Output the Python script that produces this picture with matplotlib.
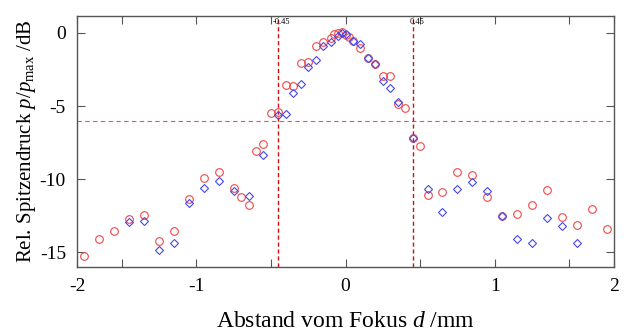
import numpy as np
import matplotlib
matplotlib.use("Agg")
import matplotlib.pyplot as plt

plt.rcParams['font.family'] = ['Liberation Serif', 'DejaVu Serif']
plt.rcParams['mathtext.fontset'] = 'custom'
plt.rcParams['mathtext.rm'] = 'Liberation Serif'
plt.rcParams['mathtext.it'] = 'Liberation Serif:italic'
plt.rcParams['axes.unicode_minus'] = False

# measured peak pressure, red circles
d_red = [-1.75, -1.65, -1.55, -1.45, -1.35, -1.25, -1.15, -1.05, -0.95, -0.85,
         -0.75, -0.70, -0.65, -0.60, -0.55, -0.50, -0.45, -0.40, -0.35, -0.30,
         -0.25, -0.20, -0.15, -0.10, -0.075, -0.05, -0.025, 0.0, 0.025, 0.05,
         0.10, 0.15, 0.20, 0.25, 0.30, 0.35, 0.40, 0.45, 0.50, 0.55,
         0.65, 0.75, 0.85, 0.95, 1.05, 1.15, 1.25, 1.35, 1.45, 1.55,
         1.65, 1.75]
p_red = [-15.25, -14.1, -13.5, -12.7, -12.45, -14.25, -13.5, -11.35, -9.88, -9.52,
         -10.6, -11.23, -11.78, -8.06, -7.6, -5.5, -5.38, -3.53, -3.6, -2.09,
         -1.97, -0.87, -0.6, -0.35, -0.1, 0.0, 0.05, -0.15, -0.3, -0.53,
         -1.0, -1.69, -2.1, -2.95, -2.95, -4.86, -5.16, -7.15, -7.74, -11.07,
         -10.9, -9.47, -9.7, -11.19, -12.51, -12.4, -11.78, -10.75, -12.56, -13.13,
         -12.03, -13.4]

# second series, blue diamonds
d_blue = [-1.45, -1.35, -1.25, -1.15, -1.05, -0.95, -0.85, -0.75, -0.65, -0.55,
          -0.45, -0.40, -0.35, -0.30, -0.25, -0.20, -0.15, -0.10, -0.05, -0.025,
          0.0, 0.05, 0.10, 0.15, 0.20, 0.25, 0.30, 0.35, 0.45, 0.55,
          0.65, 0.75, 0.85, 0.95, 1.05, 1.15, 1.25, 1.35, 1.45, 1.55]
p_blue = [-12.95, -12.85, -14.84, -14.36, -11.6, -10.57, -10.09, -10.8, -11.16, -8.33,
          -5.64, -5.56, -4.1, -3.52, -2.35, -1.87, -0.92, -0.65, -0.2, 0.0,
          -0.05, -0.53, -0.75, -1.69, -2.1, -3.26, -3.74, -4.7, -7.15, -10.68,
          -12.24, -10.66, -10.18, -10.78, -12.49, -14.1, -14.34, -12.65, -13.22, -14.34]

focus_width = 0.45
level_6db = -6.0

fig = plt.figure(figsize=(6.24, 3.31), dpi=100)
ax = fig.add_axes([0.1234, 0.193, 0.8606, 0.759])

ax.axhline(level_6db, color='#e85858', linestyle='--', linewidth=0.8, dashes=(4, 3))
ax.axvline(-focus_width, color='#d01010', linestyle='--', linewidth=1.0, dashes=(3, 2))
ax.axvline(focus_width, color='#d01010', linestyle='--', linewidth=1.0, dashes=(3, 2))

ax.plot(d_red, p_red, linestyle='none', marker='o', markersize=5.5,
        markerfacecolor='none', markeredgecolor='#f04848', markeredgewidth=0.8)
ax.plot(d_blue, p_blue, linestyle='none', marker='D', markersize=3.6,
        markerfacecolor='none', markeredgecolor='#4848e8', markeredgewidth=0.8)

ax.text(-0.49, 0.45, '-0.45', fontsize=6, ha='left', va='bottom')
ax.text(0.43, 0.45, '0.45', fontsize=6, ha='left', va='bottom')

ax.set_xlim(-1.8, 1.8)
ax.set_ylim(-16.0, 1.16)

ax.set_xticks([-1.8, -1, 0, 1, 1.8])
ax.set_xticklabels(['-2', '-1', '0', '1', '2'])
ax.set_xticks([-1.5, -0.5, 0.5, 1.5], minor=True)
ax.set_yticks([0, -5, -10, -15])
ax.tick_params(axis='both', which='both', direction='in', top=True, right=True,
               length=6, width=0.8, color='#555555', labelsize=14, pad=8)

for s in ax.spines.values():
    s.set_color('#555555')
    s.set_linewidth(1.0)

ax.set_xlabel(r'Abstand vom Fokus $d$ /mm', fontsize=17, labelpad=11)
ax.set_ylabel(r'Rel. Spitzendruck $p/p_{\mathrm{max}}$ /dB', fontsize=15, labelpad=1)

fig.savefig('out.png', dpi=100)
